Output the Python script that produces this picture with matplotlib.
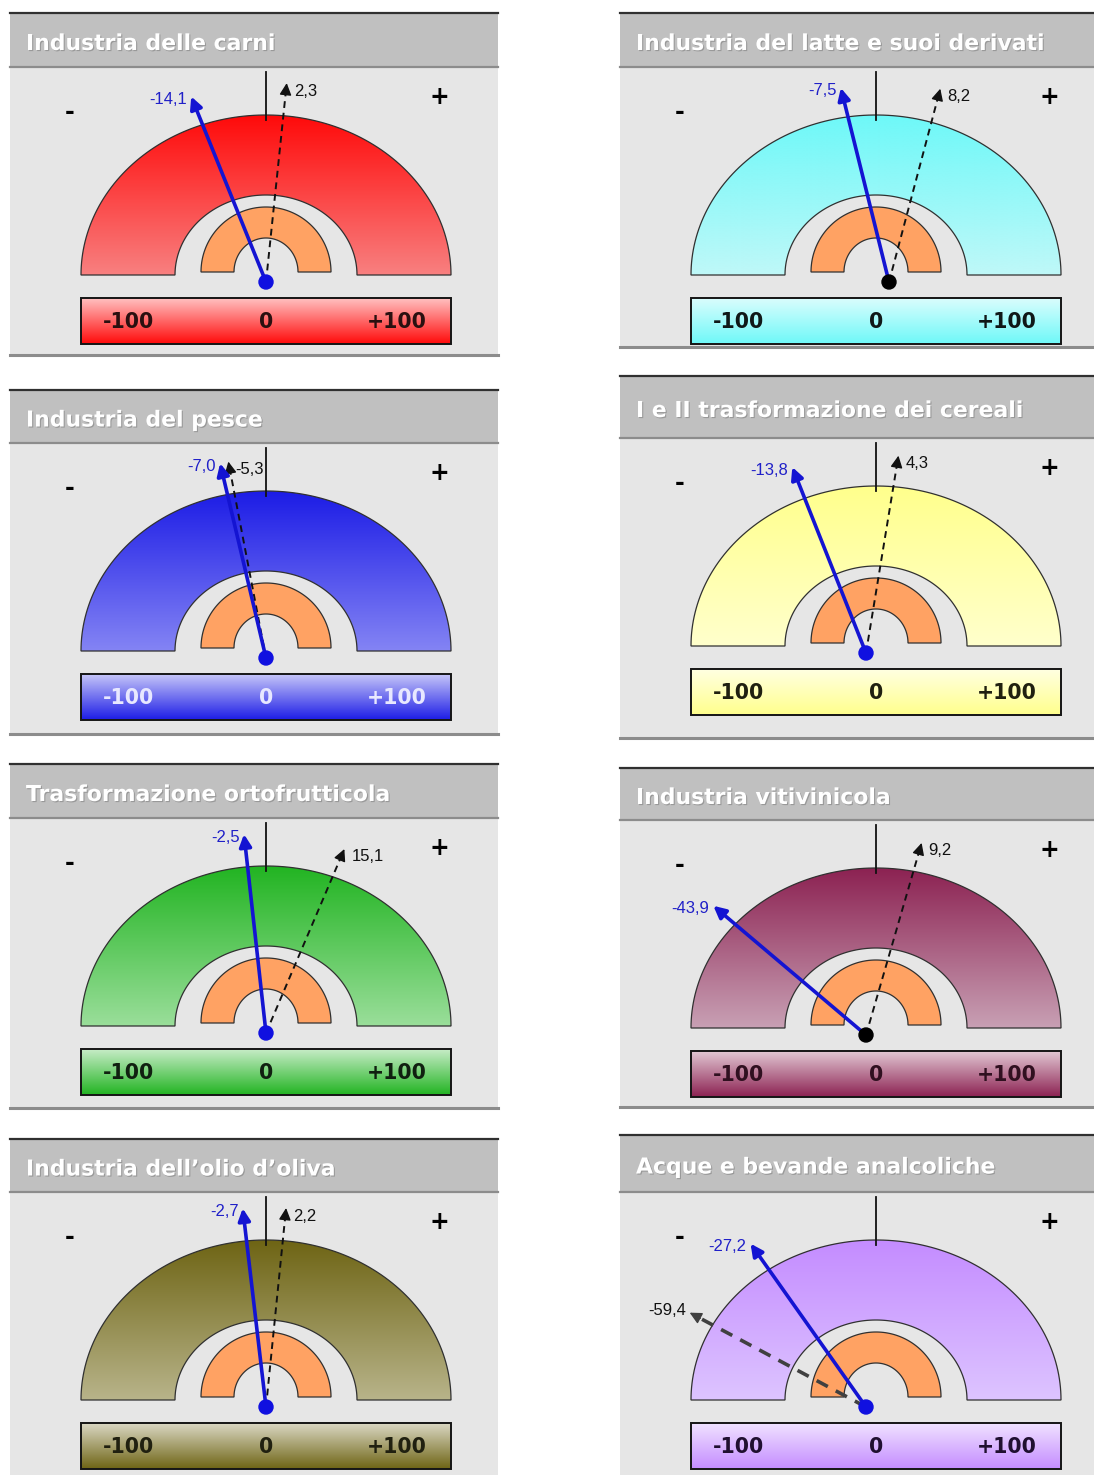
import numpy as np
import matplotlib
matplotlib.use("Agg")
import matplotlib.pyplot as plt
from matplotlib.path import Path
from matplotlib.patches import PathPatch, Rectangle, Circle
from matplotlib.colors import LinearSegmentedColormap
import matplotlib.patheffects as pe

# sector indicators (saldo, -100..+100)
titles = [
    "Industria delle carni", "Industria del latte e suoi derivati",
    "Industria del pesce", "I e II trasformazione dei cereali",
    "Trasformazione ortofrutticola", "Industria vitivinicola",
    "Industria dell\u2019olio d\u2019oliva", "Acque e bevande analcoliche",
]
current = [-14.1, -7.5, -7.0, -13.8, -2.5, -43.9, -2.7, -27.2]
previous = [2.3, 8.2, -5.3, 4.3, 15.1, 9.2, 2.2, -59.4]
scale_labels = ["-100", "0", "+100"]

# gauge colours: top of dial, bottom of dial
dial_top = ["#ff0a0a", "#6ef8f8", "#1c1ce6", "#ffff8c", "#22b422", "#8c2252", "#6e6414", "#c48cff"]
dial_bot = ["#f88080", "#bff8f8", "#8484f4", "#ffffcc", "#9ade9a", "#c8a0b4", "#b8b48a", "#ddc4ff"]
bar_txt = ["#2a1010", "#101818", "#e8e8ff", "#202010", "#102010", "#301020", "#202010", "#201030"]
pivot_col = ["#1010e0", "#000000", "#1010e0", "#1010e0", "#1010e0", "#000000", "#1010e0", "#1010e0"]

# panel boxes in pixels: x0, x1, top, title bottom, bottom
panels = [
    (10, 498, 13, 67, 355), (620, 1094, 13, 67, 347),
    (10, 498, 390, 443, 734), (620, 1094, 376, 438, 738),
    (10, 498, 764, 818, 1108), (620, 1094, 768, 820, 1107),
    (10, 498, 1139, 1192, 1480), (620, 1094, 1135, 1192, 1480),
]
pivot_dx = [0, 13, 0, -10, 0, -10, 0, -10]

W, H = 1094, 1475
fig = plt.figure(figsize=(W / 100, H / 100), dpi=100)
ax = fig.add_axes([0, 0, 1, 1])


def half_ring(cx, cy, ao, bo, ai, bi, n=120):
    t = np.linspace(np.pi, 0, n)
    outer = np.column_stack([cx + ao * np.cos(t), cy - bo * np.sin(t)])
    inner = np.column_stack([cx + ai * np.cos(t[::-1]), cy - bi * np.sin(t[::-1])])
    verts = np.vstack([outer, inner, outer[:1]])
    codes = [Path.MOVETO] + [Path.LINETO] * (len(verts) - 2) + [Path.CLOSEPOLY]
    return Path(verts, codes)


def gradient(patch, c_top, c_bot, x0, x1, y0, y1, z):
    cmap = LinearSegmentedColormap.from_list("g", [c_top, c_bot])
    g = np.linspace(0, 1, 256).reshape(-1, 1)
    im = ax.imshow(g, cmap=cmap, extent=(x0, x1, y1, y0), origin="upper",
                   aspect="auto", zorder=z, interpolation="bilinear")
    im.set_clip_path(patch)


def angle_of(v):
    return np.sign(v) * 90 * (abs(v) / 100) ** 0.72


def needle(px, py, v, color, dashed, lw):
    th = np.radians(angle_of(v))
    d = np.array([np.sin(th), -np.cos(th)])
    tip = np.array([px, py]) + 200 * d
    if dashed:
        base = tip - 10 * d
        ax.plot([px, base[0]], [py, base[1]], color=color, lw=lw,
                dashes=(3.5, 2.5), zorder=6, solid_capstyle="butt")
        ax.annotate("", xy=tip, xytext=tip - 12 * d,
                    arrowprops=dict(arrowstyle="-|>", color=color, lw=1,
                                    mutation_scale=18, shrinkA=0, shrinkB=0), zorder=6)
    else:
        ax.annotate("", xy=tip, xytext=(px, py),
                    arrowprops=dict(arrowstyle="-|>", color=color, lw=lw,
                                    mutation_scale=18, shrinkA=0, shrinkB=0), zorder=7)
    return tip


def fmt(v):
    return f"{v:.1f}".replace(".", ",")


for i, (x0, x1, top, tb, bot) in enumerate(panels):
    # panel frame
    ax.add_patch(Rectangle((x0, tb), x1 - x0, bot - tb, fc="#e6e6e6", ec="none", zorder=0))
    ax.add_patch(Rectangle((x0, top), x1 - x0, tb - top, fc="#c0c0c0", ec="none", zorder=0))
    ax.plot([x0, x1], [top, top], color="#303030", lw=1.6, zorder=1)
    ax.plot([x0, x1], [tb, tb], color="#8c8c8c", lw=1.6, zorder=1)
    ax.plot([x0, x1], [bot, bot], color="#8c8c8c", lw=2.2, zorder=1)
    ax.text(x0 + 16, (top + tb) / 2 + 4, titles[i], color="white", fontsize=15.8,
            fontweight="bold", family="DejaVu Sans", va="center", ha="left", zorder=2,
            path_effects=[pe.withSimplePatchShadow(offset=(0.8, -0.8), shadow_rgbFace="#808080", alpha=0.6)])

    cx = x0 + 256
    cy = tb + 208

    # outer dial
    p = half_ring(cx, cy, 185, 160, 91, 80)
    patch = PathPatch(p, fc="none", ec="#303030", lw=0.9, zorder=3)
    ax.add_patch(patch)
    gradient(patch, dial_top[i], dial_bot[i], cx - 185, cx + 185, cy - 160, cy, 2)

    # inner orange ring
    q = half_ring(cx, cy - 3, 65, 65, 32, 34)
    ax.add_patch(PathPatch(q, fc="#ffa263", ec="#303030", lw=0.9, zorder=3))

    # zero tick and sign marks
    ax.plot([cx, cx], [cy - 203, cy - 155], color="#111111", lw=1.3, zorder=4)
    ax.text(cx - 196, cy - 163, "-", fontsize=17, fontweight="bold", ha="center", va="center", zorder=4)
    ax.text(cx + 173, cy - 178, "+", fontsize=17, fontweight="bold", ha="center", va="center", zorder=4)

    # scale bar
    bar = Rectangle((cx - 185, cy + 23), 370, 46, fc="none", ec="#151515", lw=1.4, zorder=4)
    ax.add_patch(bar)
    light = LinearSegmentedColormap.from_list("l", ["white", dial_top[i]])(0.25)
    gradient(bar, light, dial_top[i], cx - 185, cx + 185, cy + 23, cy + 69, 3)
    for lab, off in zip(scale_labels, (-138, 0, 131)):
        ax.text(cx + off, cy + 47, lab, fontsize=14.8, fontweight="bold", color=bar_txt[i],
                ha="center", va="center", zorder=5)

    # needles
    px, py = cx + pivot_dx[i], cy + 7
    acque = previous[i] < -50
    t_prev = needle(px, py, previous[i], "#404040" if acque else "#111111", True, 2.6 if acque else 1.4)
    t_cur = needle(px, py, current[i], "#1414d2", False, 2.6)
    ax.add_patch(Circle((px, py), 7, color=pivot_col[i], zorder=8))

    lab_font = dict(fontsize=12, family=["Liberation Sans", "DejaVu Sans"], zorder=9)
    ax.text(t_cur[0] - 4, t_cur[1] + 3, fmt(current[i]), color="#2020c8",
            ha="right", va="center", **lab_font)
    if previous[i] < current[i]:
        ax.text(t_prev[0] - 4, t_prev[1] - 2, fmt(previous[i]), color="#111111",
                ha="right", va="center", **lab_font)
    else:
        ax.text(t_prev[0] + 7, t_prev[1] + 8, fmt(previous[i]), color="#111111",
                ha="left", va="center", **lab_font)

ax.set_xlim(0, W)
ax.set_ylim(H, 0)
ax.axis("off")
fig.savefig("out.png", dpi=100, facecolor="white")
